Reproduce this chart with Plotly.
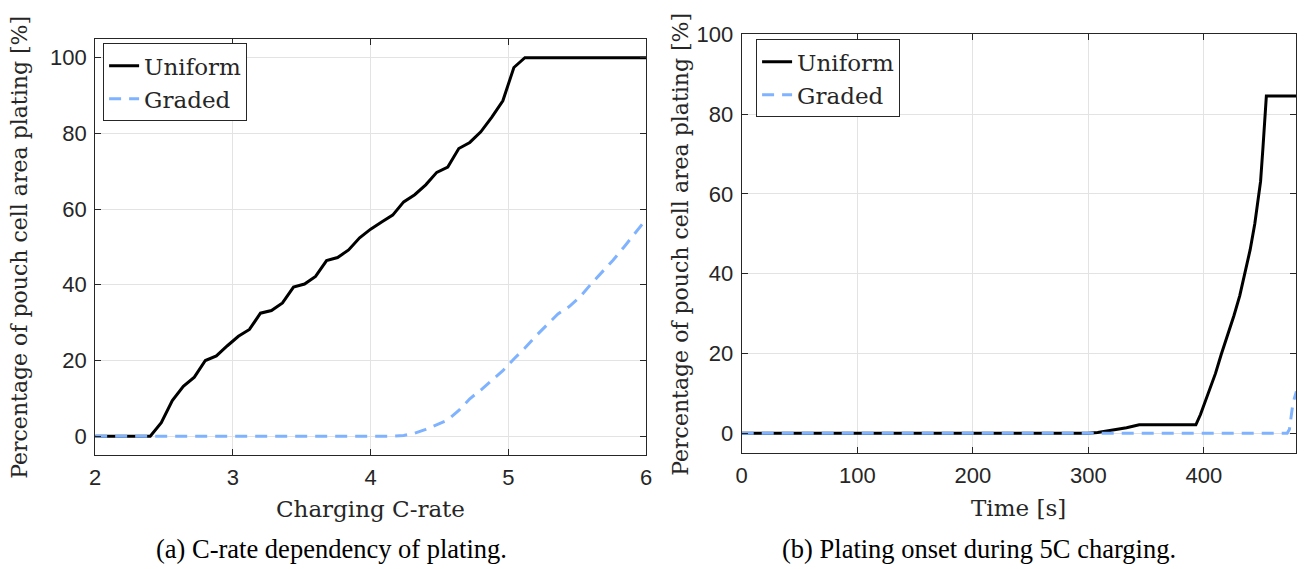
import plotly.graph_objects as go

W, H = 1313, 569

# ---------------- data ----------------
c_rate = [2.00, 2.08, 2.16, 2.24, 2.32, 2.40, 2.48, 2.56, 2.64, 2.72, 2.80, 2.88, 2.96,
          3.04, 3.12, 3.20, 3.28, 3.36, 3.44, 3.52, 3.60, 3.68, 3.76, 3.84, 3.92, 4.00,
          4.08, 4.16, 4.24, 4.32, 4.40, 4.48, 4.56, 4.64, 4.72, 4.80, 4.88, 4.96, 5.04,
          5.12, 5.20, 5.28, 5.36, 5.44, 5.52, 5.60, 5.68, 5.76, 5.84, 5.92, 6.00]
uniform_c = [0, 0, 0, 0, 0, 0, 3.6, 9.4, 13.2, 15.6, 20.0, 21.2, 23.9,
             26.4, 28.2, 32.5, 33.2, 35.2, 39.4, 40.2, 42.2, 46.4, 47.2, 49.2, 52.4, 54.7,
             56.6, 58.4, 61.9, 63.8, 66.4, 69.7, 71.1, 76.0, 77.6, 80.4, 84.3, 88.6, 97.4,
             100, 100, 100, 100, 100, 100, 100, 100, 100, 100, 100, 100]
graded_c = [0, 0, 0, 0, 0, 0, 0, 0, 0, 0, 0, 0, 0,
            0, 0, 0, 0, 0, 0, 0, 0, 0, 0, 0, 0, 0,
            0, 0, 0.2, 0.8, 1.8, 3.0, 4.3, 6.8, 9.9, 12.2, 14.8, 17.3, 20.4,
            23.3, 26.5, 29.5, 32.3, 34.2, 36.8, 40.2, 43.4, 46.5, 50.0, 53.6, 57.3]

time_u = [0, 300, 308, 322, 333, 344, 393, 397, 404, 410, 415, 421, 426, 431, 436, 440, 444, 447, 449, 451, 453, 454, 480]
uniform_t = [0, 0, 0.2, 0.8, 1.4, 2.1, 2.1, 4.7, 10, 15, 19.8, 25, 29.5, 34.5, 40.5, 46, 52.5, 58.6, 63.1, 71.3, 81.1, 84.5, 84.5]
time_g = [0, 472, 474, 475.5, 477, 480]
graded_t = [0, 0, 1, 4.5, 7.5, 10.5]

x_ticks_a = [2, 3, 4, 5, 6]
y_ticks_a = [0, 20, 40, 60, 80, 100]
x_ticks_b = [0, 100, 200, 300, 400]
y_ticks_b = [0, 20, 40, 60, 80, 100]

# ---------------- styles ----------------
BLACK = "#000000"
BLUE = "#80b3ff"
AX = "#262626"
GRID = "#e3e3e3"
TICKFONT = dict(family="Liberation Sans, Arial, sans-serif", size=22, color=AX)
CMFONT = dict(family="DejaVu Serif, serif", size=23, color=AX)
YLFONT = dict(family="DejaVu Serif, serif", size=22, color=AX)
CAPFONT = dict(family="Liberation Serif, Times New Roman, serif", size=26.5, color="#000000")


def px_x(p):
    return p / W


def px_y(p):
    return 1 - p / H


fig = go.Figure()

fig.add_trace(go.Scatter(x=c_rate, y=uniform_c, mode="lines", name="Uniform",
                         line=dict(color=BLACK, width=3), xaxis="x", yaxis="y", legend="legend"))
fig.add_trace(go.Scatter(x=c_rate, y=graded_c, mode="lines", name="Graded",
                         line=dict(color=BLUE, width=3, dash="12px,8px"), xaxis="x", yaxis="y",
                         legend="legend"))
fig.add_trace(go.Scatter(x=time_u, y=uniform_t, mode="lines", name="Uniform",
                         line=dict(color=BLACK, width=3), xaxis="x2", yaxis="y2", legend="legend2"))
fig.add_trace(go.Scatter(x=time_g, y=graded_t, mode="lines", name="Graded",
                         line=dict(color=BLUE, width=3, dash="12px,8px"), xaxis="x2", yaxis="y2",
                         legend="legend2"))

common = dict(showline=True, linecolor=AX, linewidth=1, mirror="ticks", ticks="inside",
              ticklen=6, tickcolor=AX, tickwidth=1, showgrid=True, gridcolor=GRID, gridwidth=1,
              zeroline=False, tickfont=TICKFONT)

fig.update_layout(
    width=W, height=H,
    margin=dict(l=0, r=0, t=0, b=0),
    paper_bgcolor="white", plot_bgcolor="white",
    xaxis=dict(domain=[px_x(90), px_x(646)], range=[2, 6], tickvals=x_ticks_a,
               anchor="y", ticklabelstandoff=2, **common),
    yaxis=dict(domain=[px_y(452.7), px_y(27.3)], range=[-5, 105], tickvals=y_ticks_a,
               anchor="x", ticklabelstandoff=3, **common),
    xaxis2=dict(domain=[px_x(742.5), px_x(1302.3)], range=[0, 480], tickvals=x_ticks_b,
                anchor="y2", ticklabelstandoff=2, **common),
    yaxis2=dict(domain=[px_y(450.7), px_y(22.7)], range=[-5, 100], tickvals=y_ticks_b,
                anchor="x2", ticklabelstandoff=3, **common),
    legend=dict(x=px_x(98), y=px_y(32), xanchor="left", yanchor="top",
                bgcolor="white", bordercolor=AX, borderwidth=1, font=CMFONT,
                tracegroupgap=0, entrywidth=118, entrywidthmode="pixels"),
    legend2=dict(x=px_x(757), y=px_y(28), xanchor="left", yanchor="top",
                 bgcolor="white", bordercolor=AX, borderwidth=1, font=CMFONT,
                 tracegroupgap=0, entrywidth=118, entrywidthmode="pixels"),
    showlegend=True,
)

annotations = [
    dict(text="Charging C-rate", x=px_x(368), y=px_y(508), font=CMFONT),
    dict(text="Time [s]", x=px_x(1022), y=px_y(507), font=CMFONT),
    dict(text="Percentage of pouch cell area plating [%]", x=px_x(14), y=px_y(240),
         textangle=-90, font=YLFONT),
    dict(text="Percentage of pouch cell area plating [%]", x=px_x(680), y=px_y(237),
         textangle=-90, font=YLFONT),
    dict(text="(a) C-rate dependency of plating.", x=px_x(329), y=px_y(549), font=CAPFONT),
    dict(text="(b) Plating onset during 5C charging.", x=px_x(982), y=px_y(549), font=CAPFONT),
]
for a in annotations:
    a.update(xref="paper", yref="paper", showarrow=False, xanchor="center", yanchor="middle")
fig.update_layout(annotations=annotations)

fig.write_html("out.html")
